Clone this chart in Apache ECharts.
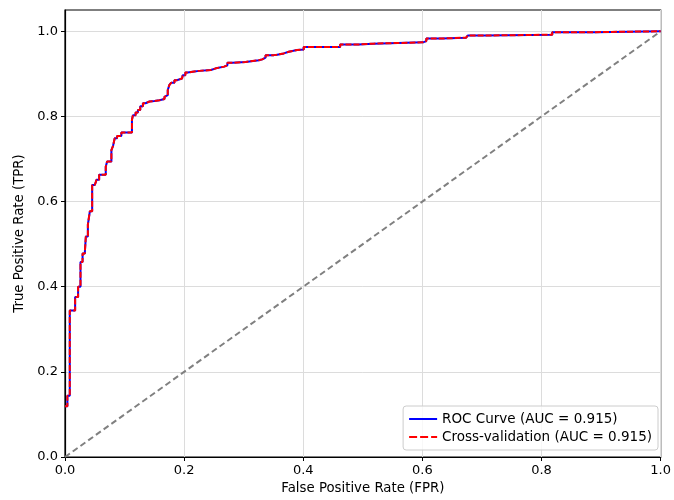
<!DOCTYPE html>
<html>
<head>
<meta charset="utf-8">
<script src="https://cdn.jsdelivr.net/npm/echarts@6/dist/echarts.min.js"></script>
<style>
  html, body { margin: 0; padding: 0; background: #fff; }
  #chart { width: 674px; height: 500px; }
</style>
</head>
<body>
<div id="chart"></div>
<script>
  // ROC steps: at each fpr the tpr rises to the given value
  var fpr = [0, 0.004, 0.008, 0.017, 0.022, 0.026, 0.0295, 0.0334, 0.035, 0.0384, 0.0417, 0.0456, 0.05, 0.0529, 0.0573,
    0.0684, 0.0707, 0.0779, 0.0807, 0.0835, 0.0874, 0.0946, 0.1124, 0.1141, 0.1185, 0.1224, 0.1263, 0.1308, 0.1352,
    0.1419, 0.1503, 0.1586, 0.167, 0.1698, 0.1725, 0.1753, 0.1781, 0.1837, 0.1876, 0.1965, 0.1976, 0.202, 0.2059,
    0.2142, 0.2254, 0.2449, 0.2532, 0.2671, 0.2727, 0.2811, 0.3033, 0.3255, 0.3311, 0.3367, 0.3506, 0.3562, 0.3673,
    0.3757, 0.3895, 0.4007, 0.4619, 0.4925, 0.5175, 0.601, 0.6066, 0.6316, 0.6734, 0.6761, 0.704, 0.818, 0.8904, 1.0];
  var tpr = [0.119, 0.144, 0.344, 0.376, 0.400, 0.458, 0.478, 0.483, 0.518, 0.546, 0.577, 0.639, 0.643, 0.651, 0.663,
    0.682, 0.694, 0.721, 0.731, 0.749, 0.754, 0.762, 0.792, 0.803, 0.809, 0.815, 0.824, 0.831, 0.835,
    0.836, 0.838, 0.841, 0.846, 0.850, 0.862, 0.874, 0.879, 0.885, 0.889, 0.892, 0.897, 0.903, 0.905,
    0.907, 0.909, 0.913, 0.917, 0.920, 0.926, 0.928, 0.932, 0.934, 0.938, 0.944, 0.945, 0.948, 0.952,
    0.956, 0.957, 0.963, 0.969, 0.971, 0.974, 0.977, 0.983, 0.985, 0.988, 0.990, 0.992, 0.998, 1.0, 1.0];
  var diagX = [0, 1];
  var diagY = [0, 1];
  var xTicks = [0, 0.2, 0.4, 0.6, 0.8, 1.0];
  var yTicks = [0, 0.2, 0.4, 0.6, 0.8, 1.0];
  var rocName = 'ROC Curve (AUC = 0.915)';
  var cvName = 'Cross-validation (AUC = 0.915)';

  // turn steps into corner points (horizontal, then vertical)
  var corners = [[fpr[0], tpr[0]]];
  for (var i = 1; i < fpr.length; i++) {
    corners.push([fpr[i], tpr[i - 1]]);
    corners.push([fpr[i], tpr[i]]);
  }
  var diag = diagX.map(function (x, i) { return [x, diagY[i]]; });

  var font = 'DejaVu Sans';
  var myChart = echarts.init(document.getElementById('chart'));

  function axis(name, ticks, max, extra) {
    var a = {
      type: 'value',
      min: 0,
      max: max,
      name: name,
      nameLocation: 'middle',
      nameTextStyle: { color: '#000', fontFamily: font, fontSize: 13.3 },
      axisLine: { show: true, onZero: false, lineStyle: { color: '#000', width: 1.2 } },
      axisTick: { show: true, length: 4, customValues: ticks, lineStyle: { color: '#000' } },
      axisLabel: {
        customValues: ticks, color: '#000', fontFamily: font, fontSize: 13, margin: 7,
        formatter: function (v) { return v.toFixed(1); }
      },
      splitLine: { show: true, lineStyle: { color: '#dcdcdc', width: 1 } }
    };
    return Object.assign(a, extra);
  }

  myChart.setOption({
    animation: false,
    grid: { left: 65, right: 10, top: 10, bottom: 42, show: true, borderColor: '#000', borderWidth: 1.2 },
    xAxis: axis('False Positive Rate (FPR)', xTicks, 1, { nameGap: 25 }),
    yAxis: axis('True Positive Rate (TPR)', yTicks, 1.05, { nameGap: 39 }),
    legend: {
      orient: 'vertical',
      right: 16,
      bottom: 50,
      itemWidth: 28,
      itemHeight: 2,
      itemGap: 4,
      padding: [6, 6, 6, 6],
      borderColor: '#cccccc',
      borderWidth: 1,
      borderRadius: 3,
      backgroundColor: 'rgba(255,255,255,0.8)',
      textStyle: { color: '#000', fontFamily: font, fontSize: 13.5 },
      data: [
        { name: rocName, icon: 'path://M0,0h28v2h-28z', itemStyle: { color: '#0000ff' } },
        { name: cvName, icon: 'path://M0,0h8v2h-8zM11,0h8v2h-8zM22,0h6v2h-6z', itemStyle: { color: '#ff0000' } }
      ]
    },
    series: [
      {
        type: 'line',
        data: diag,
        symbol: 'none',
        silent: true,
        lineStyle: { color: '#808080', width: 2, type: [6, 3.5] }
      },
      {
        name: rocName,
        type: 'line',
        data: corners,
        symbol: 'none',
        itemStyle: { color: '#0000ff' },
        lineStyle: { color: '#0000ff', width: 2 }
      },
      {
        name: cvName,
        type: 'line',
        data: corners,
        symbol: 'none',
        itemStyle: { color: '#ff0000' },
        lineStyle: { color: '#ff0000', width: 2, type: [6, 2] }
      }
    ]
  });
</script>
</body>
</html>
